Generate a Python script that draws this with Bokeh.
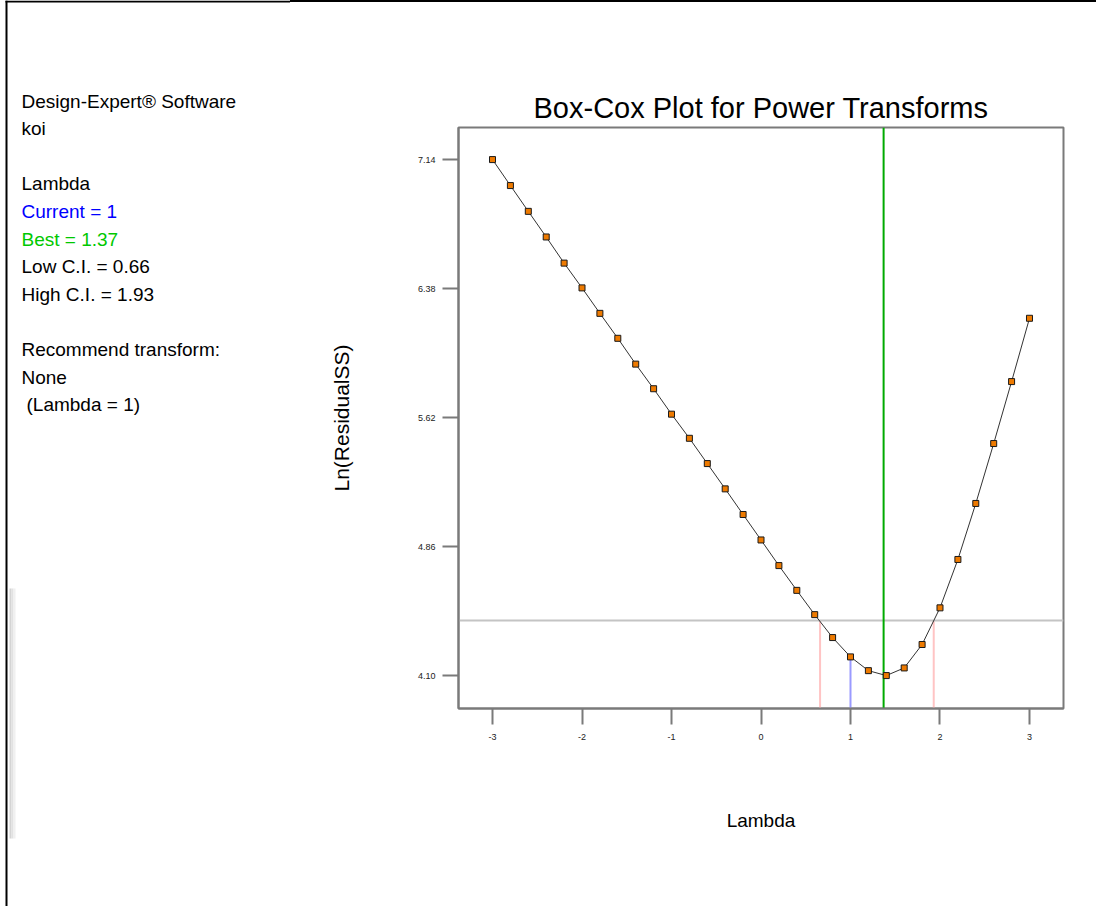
from bokeh.core.properties import value
from bokeh.embed import file_html
from bokeh.layouts import column, row
from bokeh.models import Div, FixedTicker, PrintfTickFormatter, Range1d, Span
from bokeh.plotting import figure
from bokeh.resources import INLINE

# Box-Cox scan: lambda grid and ln(residual SS) at each lambda
lambda_vals = [-3.0, -2.8, -2.6, -2.4, -2.2, -2.0, -1.8, -1.6, -1.4, -1.2, -1.0,
               -0.8, -0.6, -0.4, -0.2, 0.0, 0.2, 0.4, 0.6, 0.8, 1.0,
               1.2, 1.4, 1.6, 1.8, 2.0, 2.2, 2.4, 2.6, 2.8, 3.0]
ln_residual_ss = [7.140, 6.987, 6.835, 6.684, 6.530, 6.384, 6.234, 6.087, 5.935, 5.790, 5.640,
                  5.498, 5.349, 5.200, 5.049, 4.899, 4.748, 4.602, 4.459, 4.324, 4.210,
                  4.129, 4.100, 4.145, 4.283, 4.499, 4.784, 5.114, 5.467, 5.832, 6.205]

current_lambda = 1.0
best_lambda = 1.37
low_ci = 0.66
high_ci = 1.93
ci_cutoff = 4.424

x_ticks = [-3, -2, -1, 0, 1, 2, 3]
y_ticks = [4.10, 4.86, 5.62, 6.38, 7.14]

info_text = ["Design-Expert\u00ae Software", "koi", "",
             "Lambda", "Current = 1", "Best = 1.37", "Low C.I. = 0.66", "High C.I. = 1.93", "",
             "Recommend transform:", "None", "(Lambda = 1)"]
info_colors = ["#000000", "#000000", "#000000",
               "#000000", "#0000FF", "#00C800", "#000000", "#000000", "#000000",
               "#000000", "#000000", "#000000"]
info_indent = [0, 0, 0, 0, 0, 0, 0, 0, 0, 0, 0, 5]

FONT = "Liberation Sans"
AXIS_GREY = "#7a7a7a"
PANEL_W = 290
PAGE_W, PAGE_H = 1096, 906
FRAME_LEFT = 458

# ---- left information panel (a bare figure used as a drawing surface) ----
info = figure(width=PANEL_W, height=PAGE_H, output_backend="svg", toolbar_location=None,
              x_range=Range1d(0, PANEL_W), y_range=Range1d(PAGE_H, 0),
              min_border=0, x_axis_type=None, y_axis_type=None)
info.outline_line_color = None
info.grid.visible = False
info.background_fill_color = "white"
info.border_fill_color = "white"

keep = [i for i, t in enumerate(info_text) if t]
info.text(x=[21 + info_indent[i] for i in keep], y=[100.5 + 27.6 * i for i in keep],
          text=[info_text[i] for i in keep], text_color=[info_colors[i] for i in keep],
          text_font=value(FONT), text_font_size="19px",
          text_align="left", text_baseline="alphabetic")

# page frame: left rule and top rule, plus a faint shading strip
info.segment(x0=[6, 5], y0=[0, 1], x1=[6, PANEL_W], y1=[PAGE_H, 1],
             line_color="black", line_width=2)
info.quad(left=[9, 11, 13], right=[11, 13, 15], top=[588] * 3, bottom=[838] * 3,
          fill_color=["#d4d4d4", "#e2e2e2", "#f0f0f0"], line_color=None)

top_rule = Div(width=PAGE_W - PANEL_W, height=2, margin=0,
               styles={"background-color": "black"})

# ---- main Box-Cox chart ----
p = figure(width=PAGE_W - PANEL_W, height=PAGE_H - 2, output_backend="svg",
           toolbar_location=None,
           x_range=Range1d(-3.38, 3.38), y_range=Range1d(3.906, 7.329),
           min_border_left=FRAME_LEFT - PANEL_W, min_border_right=33,
           min_border_top=125, min_border_bottom=198)
p.background_fill_color = "white"
p.border_fill_color = "white"
p.outline_line_color = AXIS_GREY
p.outline_line_width = 2
p.grid.visible = False

p.title.text = "Box-Cox Plot for Power Transforms"
p.title.align = "center"
p.title.text_font = FONT
p.title.text_font_size = "29px"
p.title.text_font_style = "normal"
p.title.text_color = "#000000"
p.title.standoff = 8

for ax in (p.xaxis[0], p.yaxis[0]):
    ax.axis_line_color = AXIS_GREY
    ax.axis_line_width = 2
    ax.major_tick_line_color = AXIS_GREY
    ax.major_tick_line_width = 2
    ax.major_tick_in = 0
    ax.major_tick_out = 16
    ax.minor_tick_line_color = None
    ax.major_label_text_font = FONT
    ax.major_label_text_font_size = "9px"
    ax.major_label_text_color = "#222222"
    ax.axis_label_text_font = FONT
    ax.axis_label_text_font_style = "normal"
    ax.axis_label_text_color = "#000000"

p.xaxis[0].ticker = FixedTicker(ticks=x_ticks)
p.xaxis[0].formatter = PrintfTickFormatter(format="%d")
p.xaxis[0].major_label_standoff = 9
p.xaxis[0].axis_label = "Lambda"
p.xaxis[0].axis_label_text_font_size = "19px"
p.xaxis[0].axis_label_standoff = 67

p.yaxis[0].ticker = FixedTicker(ticks=y_ticks)
p.yaxis[0].formatter = PrintfTickFormatter(format="%.2f")
p.yaxis[0].major_label_standoff = 7
p.yaxis[0].axis_label = "Ln(ResidualSS)"
p.yaxis[0].axis_label_text_font_size = "21px"
p.yaxis[0].axis_label_standoff = 62

# reference lines
p.add_layout(Span(location=ci_cutoff, dimension="width", line_color="#c4c4c4",
                  line_width=2, level="underlay"))
p.add_layout(Span(location=best_lambda, dimension="height", line_color="#00aa00",
                  line_width=2, level="underlay"))

y_floor = p.y_range.start
current_value = ln_residual_ss[lambda_vals.index(current_lambda)]
p.segment(x0=[current_lambda], y0=[y_floor], x1=[current_lambda], y1=[current_value],
          line_color="#9a9aff", line_width=2, level="underlay")
p.segment(x0=[low_ci, high_ci], y0=[y_floor, y_floor], x1=[low_ci, high_ci],
          y1=[ci_cutoff, ci_cutoff], line_color="#ffc4c4", line_width=2, level="underlay")

# the curve and its points
p.line(lambda_vals, ln_residual_ss, line_color="#333333", line_width=1)
p.scatter(lambda_vals, ln_residual_ss, marker="square", size=6,
          fill_color="#ee7a00", line_color="#1a1a1a", line_width=1)

page = row(info, column(top_rule, p, spacing=0), spacing=0)
open("out.html", "w").write(file_html(page, INLINE))
